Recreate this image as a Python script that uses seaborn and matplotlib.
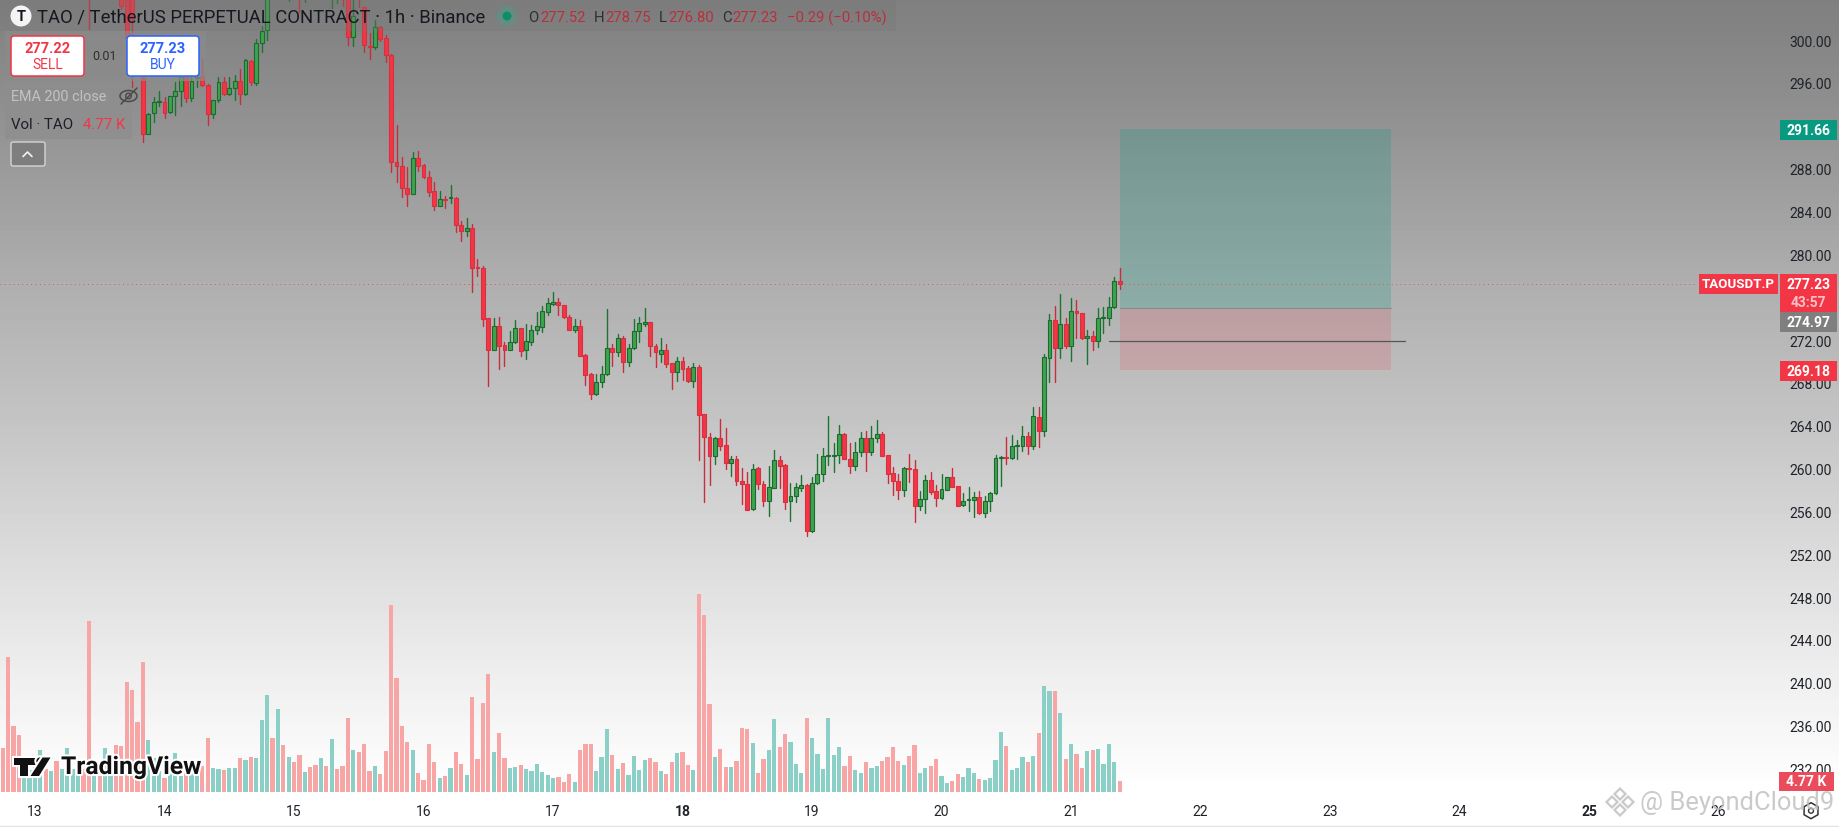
import numpy as np
import pandas as pd
import seaborn as sns
import matplotlib.pyplot as plt
from matplotlib.patches import Rectangle, Circle, Ellipse, Polygon, RegularPolygon, FancyBboxPatch
from matplotlib.patheffects import withStroke

# hours since 13th 00:00
candle_hours = [10, 16, 17, 18] + list(range(20, 202))

opens = [310, 306, 304.5, 305,
    296.53, 291.27, 293.16, 294.19, 294.25, 293.26, 294.75, 295.22, 296.53, 294.57,
    296.43, 296.62, 295.84, 293.13, 294.38, 296.06, 295.0, 295.5, 296.18, 295.0,
    298.02, 296.0, 299.70, 300.95, 305, 307, 306, 305.5, 307, 306,
    305, 306.5, 307.5, 306.5, 307, 306, 306, 307, 305.2, 300.26,
    305, 303.06, 299.48, 299.39, 301.19, 300.17, 298.61, 288.59, 288.22, 286.22,
    285.66, 288.96, 288.34, 287.22, 285.91, 284.54, 285.17, 285.23, 285.29, 282.74,
    282.21, 282.43, 278.75, 278.69, 274.02, 271.10, 273.28, 271.53, 271.10, 271.78,
    273.09, 271.03, 271.85, 272.97, 273.22, 274.58, 275.39, 275.52, 275.27, 274.15,
    272.97, 273.34, 270.60, 268.83, 266.99, 268.05, 268.80, 271.22, 270.91, 272.16,
    269.98, 271.22, 272.84, 273.53, 273.65, 271.41, 270.73, 271.04, 269.85, 269.04,
    270.04, 269.35, 268.20, 269.45, 265.06, 262.94, 261.14, 262.82, 262.20, 260.52,
    260.89, 258.84, 258.59, 256.22, 260.02, 258.59, 257.0, 258.21, 260.76, 260.33,
    257.0, 257.40, 258.21, 258.46, 254.17, 258.65, 259.46, 261.14, 261.14, 261.26,
    263.22, 260.89, 260.20, 261.58, 262.88, 261.51, 262.88, 263.19, 261.26, 259.58,
    258.87, 258.03, 260.02, 259.96, 256.47, 257.15, 258.93, 257.90, 257.22, 258.03,
    259.18, 258.34, 256.60, 257.03, 257.03, 257.31, 255.85, 256.97, 257.68, 260.95,
    261.08, 261.01, 262.07, 262.14, 263.0, 262.14, 264.78, 263.53, 270.35, 273.84,
    271.28, 273.46, 271.47, 274.68, 274.49, 272.16, 272.34, 271.94, 274.06, 274.09,
    275.05, 277.52]

highs = [311, 306.5, 305, 305.5,
    296.8, 293.2, 294.66, 295.28, 294.72, 294.81, 296.06, 296.62, 296.6, 296.53,
    296.68, 298.24, 295.9, 294.45, 296.53, 296.53, 296.53, 296.74, 297.30, 298.24,
    298.14, 300.1, 301.35, 305, 307.5, 308, 307, 308, 308, 307,
    307, 308, 308, 308, 307.5, 307.5, 307.5, 307.5, 305.5, 304.5,
    305.5, 303.06, 300.63, 301.91, 301.35, 300.48, 298.7, 292.08, 289.06, 288.12,
    289.59, 289.68, 288.4, 287.78, 286.78, 285.94, 285.48, 286.47, 285.35, 283.14,
    283.36, 282.83, 279.56, 278.94, 274.1, 274.02, 274.12, 271.78, 272.87, 273.90,
    273.15, 273.49, 273.40, 274.58, 275.2, 275.89, 276.45, 275.89, 275.3, 274.33,
    273.96, 273.90, 270.65, 268.9, 268.83, 269.60, 274.90, 271.60, 272.56, 272.41,
    271.63, 273.96, 274.12, 274.96, 273.7, 271.63, 272.22, 271.63, 269.9, 270.41,
    270.38, 269.60, 269.85, 269.67, 265.1, 263.32, 262.91, 264.62, 263.75, 261.20,
    261.14, 260.02, 259.64, 260.39, 260.1, 258.87, 260.27, 261.70, 261.14, 260.4,
    258.65, 258.65, 259.40, 258.56, 259.18, 261.36, 261.88, 264.87, 262.38, 264.07,
    263.3, 262.38, 262.51, 263.38, 263.50, 263.94, 264.50, 263.38, 261.3, 260.11,
    259.49, 260.1, 261.36, 260.83, 257.90, 259.40, 259.64, 258.46, 259.49, 259.2,
    260.02, 258.4, 257.72, 258.24, 257.84, 257.90, 257.40, 257.78, 261.26, 261.20,
    262.94, 263.13, 262.63, 263.94, 263.38, 265.71, 265.71, 270.69, 274.43, 275.2,
    276.33, 274.02, 275.89, 275.77, 274.55, 272.97, 272.84, 274.96, 275.05, 275.98,
    277.85, 278.75]

lows = [301.04, 302.9, 299.8, 295.6,
    290.46, 291.2, 292.39, 293.82, 292.70, 293.20, 293.01, 293.88, 294.25, 294.35,
    295.59, 295.69, 292.08, 292.70, 294.25, 294.88, 294.9, 294.41, 294.0, 294.88,
    295.81, 295.81, 298.92, 300.04, 304.2, 304.8, 304.5, 303.68, 304.5, 302.66,
    303.59, 305, 305.5, 305, 304.5, 302.97, 303.47, 303.22, 299.58, 299.48,
    303.06, 298.86, 298.24, 299.17, 299.95, 297.93, 287.66, 286.78, 285.32, 284.54,
    285.6, 287.81, 287.13, 285.48, 284.17, 284.5, 284.29, 284.79, 282.05, 281.28,
    281.74, 276.51, 278.01, 273.34, 267.67, 271.05, 269.29, 269.60, 271.05, 271.7,
    270.54, 270.23, 271.53, 272.59, 272.78, 274.33, 275.27, 274.33, 274.02, 272.9,
    272.78, 270.5, 267.80, 266.49, 266.9, 267.58, 268.75, 269.60, 270.54, 268.98,
    269.54, 271.15, 271.78, 273.34, 270.54, 269.48, 269.98, 269.48, 267.43, 268.20,
    268.30, 268.11, 267.58, 260.80, 256.91, 258.46, 260.42, 261.76, 259.96, 259.33,
    258.46, 256.69, 256.1, 256.15, 258.09, 256.53, 255.60, 258.15, 258.21, 256.22,
    255.13, 256.84, 257.93, 253.67, 254.1, 258.6, 258.87, 260.33, 259.71, 260.52,
    260.85, 259.58, 259.89, 261.20, 259.80, 261.26, 262.51, 261.14, 258.65, 257.53,
    257.15, 257.47, 258.71, 254.98, 256.16, 255.85, 257.65, 256.53, 257.15, 258.0,
    258.25, 256.5, 256.47, 256.03, 255.47, 255.8, 255.47, 256.03, 257.65, 258.34,
    260.42, 260.89, 260.89, 261.67, 261.32, 261.82, 262.04, 263.07, 268.11, 268.11,
    270.35, 271.22, 270.07, 272.22, 272.1, 269.73, 271.10, 271.35, 272.65, 273.40,
    275.0, 276.80]

closes = [308, 303.2, 300.26, 302,
    291.27, 293.13, 294.19, 294.25, 293.20, 294.75, 295.22, 296.53, 294.57, 296.21,
    296.53, 295.81, 293.13, 294.38, 296.06, 295.0, 295.5, 296.18, 295.0, 298.14,
    296.06, 299.70, 300.88, 304.5, 307, 306, 305.5, 307, 306, 305,
    306.5, 307.5, 306.5, 307, 306, 307, 307, 305.5, 300.26, 302.22,
    304.3, 299.55, 299.39, 301.19, 300.10, 298.61, 288.59, 288.22, 286.22, 285.66,
    288.96, 288.28, 287.19, 285.85, 284.54, 285.17, 285.1, 285.29, 282.74, 282.21,
    282.43, 278.69, 278.69, 273.96, 271.10, 273.28, 271.47, 271.10, 271.85, 273.09,
    271.0, 271.91, 272.97, 273.28, 274.71, 275.46, 275.52, 275.30, 274.12, 272.97,
    273.28, 270.54, 268.73, 266.99, 268.05, 268.80, 271.22, 270.91, 272.16, 269.98,
    271.22, 272.84, 273.59, 273.65, 271.41, 270.85, 271.04, 269.79, 269.04, 270.04,
    269.29, 268.20, 269.45, 265.0, 262.94, 261.14, 262.82, 262.14, 260.52, 260.89,
    258.80, 258.59, 256.16, 259.96, 258.59, 257.0, 258.24, 260.83, 260.27, 256.91,
    257.40, 258.24, 258.46, 254.17, 258.65, 259.46, 261.14, 261.20, 261.26, 263.22,
    260.89, 260.20, 261.51, 262.88, 261.51, 262.88, 263.19, 261.20, 259.52, 258.80,
    258.03, 260.02, 259.96, 256.47, 257.15, 258.93, 257.84, 257.22, 258.09, 259.18,
    258.31, 256.53, 256.94, 257.09, 257.31, 255.85, 256.97, 257.68, 260.98, 261.08,
    261.01, 262.07, 262.17, 263.0, 262.14, 264.87, 263.53, 270.38, 273.84, 271.28,
    273.46, 271.41, 274.68, 274.49, 272.16, 272.34, 271.94, 274.06, 274.15, 275.05,
    277.48, 277.23]

# volume in K, hour -6 up to 201
volumes = [18.8, 58.2, 28.3, 24.6, 15.6, 9.4,
    14.2, 17.9, 9.8, 8.8, 13.4, 9.8, 18.8, 9.8, 12.0, 9.8,
    74.1, 6.9, 6.9, 18.8, 9.1, 20.2, 19.7, 47.4, 44.1, 30.1,
    56.1, 22.4, 14.5, 9.1, 5.8, 9.8, 16.8, 6.9, 14.2, 9.1,
    9.8, 11.3, 23.3, 10.1, 9.8, 9.2, 10.1, 10.1, 14.5, 13.7,
    15.0, 14.6, 30.9, 42.0, 23.3, 35.8, 20.2, 15.0, 12.9, 15.9,
    8.4, 10.7, 11.6, 14.6, 11.3, 22.8, 9.8, 11.3, 31.9, 17.9,
    17.2, 20.8, 8.8, 11.3, 7.7, 17.6, 80.9, 49.3, 28.3, 21.5,
    17.9, 7.9, 5.1, 20.5, 13.0, 5.9, 6.8, 10.1, 17.2, 12.1,
    7.2, 41.2, 14.2, 38.4, 50.9, 17.2, 25.4, 14.6, 10.1, 10.5,
    11.7, 9.8, 9.0, 12.1, 8.4, 7.2, 5.9, 6.4, 4.2, 7.7,
    4.2, 17.9, 20.8, 20.5, 8.8, 15.0, 27.2, 15.9, 9.7, 12.4,
    7.2, 15.5, 9.2, 13.7, 14.6, 13.0, 8.8, 7.7, 13.0, 16.8,
    17.2, 11.7, 9.2, 85.7, 76.6, 38.0, 15.0, 18.4, 10.5, 10.5,
    13.4, 27.6, 27.2, 21.1, 7.9, 14.2, 17.9, 31.5, 19.2, 25.0,
    21.5, 12.1, 7.9, 32.1, 23.3, 16.3, 9.7, 32.1, 15.9, 19.2,
    11.1, 15.5, 9.2, 7.9, 13.0, 10.1, 11.1, 13.4, 15.0, 19.2,
    13.4, 11.7, 15.5, 20.2, 7.9, 10.1, 11.3, 14.2, 6.8, 3.8,
    4.6, 7.7, 6.4, 10.1, 7.9, 5.5, 5.1, 5.9, 13.7, 25.9,
    19.7, 9.2, 10.1, 15.0, 13.0, 15.5, 25.4, 45.8, 43.6, 43.6,
    34.1, 14.2, 20.7, 16.3, 10.1, 17.6, 17.9, 18.4, 12.1, 20.7,
    12.9, 4.77]
volume_sides = ("rrrrggggrg" "rggggrrgrg" "grrrrrrggg" "rgggrggrrg" "grggrgrggg"
    "rgrgrrgrrg" "rgrrrgrrrg" "rrrrrrgrrr" "rgrgrrgrrr" "rgrrggrggg"
    "gggrrrgrrr" "gggrgrgggg" "rrgrrgrrgr" "rrgrrgrrrg" "rrggrrgggr"
    "ggggggrrgg" "rggrrrrgrr" "ggrrggrrgg" "grggggrggg" "rgrggrgrgr" "rgrggggr")

# 276.00 sits under the last price tag in the reference
price_ticks = [p for p in range(232, 304, 4) if p != 276]
day_labels = list(range(13, 27))
bold_days = [18, 25]

last_price = 277.23
target_price = 291.66
entry_price = 274.97
stop_price = 269.18
line_price = 271.94
position_start = 201.08
position_end = 251.2
line_start = 198.96
line_end = 253.9

RED = "#f23645"
GREEN_FACE = "#3fa34d"
GREEN_EDGE = "#1a6b30"
palette_wick = {"r": "#c92c3c", "g": "#1c7433"}
palette_vol = {"r": "#f7a5a5", "g": "#8bd0c6"}

sns.set_theme(style="white")
plt.rcParams["font.family"] = ["Roboto", "DejaVu Sans"]

fig = plt.figure(figsize=(18.4, 8.28), dpi=100)

# grey to white backdrop
bg = fig.add_axes([0, 0, 1, 1], zorder=0)
shade = np.interp(np.arange(828), [0, 100, 280, 420, 560, 680, 792], [127, 142, 174, 196, 220, 239, 255])
bg.imshow(shade[:, None], cmap="gray", vmin=0, vmax=255, aspect="auto")
bg.axis("off")

ax = fig.add_axes([0, 0, 1, 1], zorder=2)
ax.patch.set_visible(False)
ax_vol = ax.twinx()
ax_vol.set_zorder(1)
ax.set_zorder(2)
ax_vol.patch.set_visible(False)

vol_df = pd.DataFrame({"hour": np.arange(-6, 202), "volume": volumes, "side": list(volume_sides)})
sns.barplot(data=vol_df, x="hour", y="volume", hue="side", palette=palette_vol, native_scale=True,
            dodge=False, width=0.78, errorbar=None, legend=False, saturation=1, linewidth=0, ax=ax_vol)
ax_vol.set_ylim(-15.3, 343.6)
ax_vol.axis("off")

candles = pd.DataFrame({"hour": candle_hours, "open": opens, "high": highs, "low": lows, "close": closes})
candles["side"] = np.where(candles["close"] >= candles["open"], "g", "r")
wicks = candles.melt(id_vars=["hour", "side"], value_vars=["high", "low"], value_name="price")
sns.lineplot(data=wicks, x="hour", y="price", units="hour", estimator=None, hue="side", palette=palette_wick,
             sort=False, linewidth=1.0, legend=False, ax=ax, zorder=3)

for side, group in candles.groupby("side"):
    body = (group["close"] - group["open"]).abs().clip(lower=0.1)
    ax.bar(group["hour"], body, bottom=group[["open", "close"]].min(axis=1), width=0.72,
           color=RED if side == "r" else GREEN_FACE, edgecolor="#d92f3f" if side == "r" else GREEN_EDGE,
           linewidth=0.8, zorder=4)

# long position tool
ax.add_patch(Rectangle((position_start, entry_price), position_end - position_start, target_price - entry_price,
                       facecolor="#089981", alpha=0.22, linewidth=0, zorder=2))
ax.add_patch(Rectangle((position_start, stop_price), position_end - position_start, entry_price - stop_price,
                       facecolor=RED, alpha=0.16, linewidth=0, zorder=2))
ax.plot([position_start, position_end], [entry_price, entry_price], color="#7f8f8c", lw=0.8, zorder=2)
ax.plot([line_start, line_end], [line_price, line_price], color="#555555", lw=0.9, zorder=5)
ax.plot([-6.5, 308], [last_price, last_price], color=RED, lw=0.7, dashes=(1, 3.5), alpha=0.8, zorder=2)

ax.set_xlim(-6.486, 334.5)
ax.set_ylim(226.53, 303.84)
ax.set_xlabel("")
ax.set_ylabel("")
ax.set_xticks([(d - 13) * 24 for d in day_labels])
ax.set_xticklabels([str(d) for d in day_labels], fontsize=10, color="#1f2329")
for lab, d in zip(ax.get_xticklabels(), day_labels):
    if d in bold_days:
        lab.set_fontweight("bold")
ax.yaxis.tick_right()
ax.set_yticks(price_ticks)
ax.set_yticklabels([f"{p:.2f}" for p in price_ticks], fontsize=10, color="#1f2329", ha="right")
ax.tick_params(axis="x", length=0, pad=-16.5)
ax.tick_params(axis="y", length=0, pad=-5.8)
sns.despine(ax=ax, left=True, bottom=True, right=True, top=True)

# screen furniture in pixel coordinates
ui = fig.add_axes([0, 0, 1, 1], zorder=5)
ui.set_xlim(0, 1840)
ui.set_ylim(828, 0)
ui.axis("off")

def tag(x0, x1, y0, y1, color):
    ui.add_patch(Rectangle((x0, y0), x1 - x0, y1 - y0, facecolor=color, linewidth=0))

def label(x, y, s, size=10, color="white", ha="center", weight="normal", **kw):
    return ui.text(x, y, s, fontsize=size, color=color, ha=ha, va="center", fontweight=weight, **kw)

# header band and legend panels
ui.add_patch(Rectangle((0, 0), 896, 32, facecolor="#767676", alpha=0.3, linewidth=0))
ui.add_patch(Rectangle((5, 32), 201, 50, facecolor="#8b8b8b", alpha=0.72, linewidth=0))
ui.add_patch(Rectangle((5, 82), 127, 58, facecolor="#8e8e8e", alpha=0.72, linewidth=0))

ui.add_patch(Circle((21, 17), 10.5, facecolor="#f4f4f4", linewidth=0))
label(21, 17, "T", size=10.5, color="#131722", weight="bold")
label(37.5, 18, "TAO / TetherUS PERPETUAL CONTRACT · 1h · Binance", size=13.3, color="#15181f", ha="left")
ui.add_patch(Circle((507, 17), 10, facecolor="#4f9a8a", alpha=0.5, linewidth=0))
ui.add_patch(Circle((507, 17), 4.5, facecolor="#0a8f6a", linewidth=0))

header_red = "#b8303e"
for x, s, col in [(528, "O", "#2e2e2e"), (540, "277.52", header_red), (594, "H", "#2e2e2e"), (605, "278.75", header_red),
                  (659, "L", "#2e2e2e"), (668, "276.80", header_red), (721.7, "C", "#2e2e2e"), (732.7, "277.23", header_red),
                  (787, "−0.29 (−0.10%)", header_red)]:
    label(x, 18, s, size=10.7, color=col, ha="left")

for x0, x1, edge in [(11, 84, RED), (127, 199, "#2962ff")]:
    ui.add_patch(FancyBboxPatch((x0 + 3, 40), x1 - x0 - 6, 34, boxstyle="round,pad=3", facecolor="white",
                                edgecolor=edge, linewidth=1.1))
label(47.5, 49, "277.22", size=10.5, color=RED, weight="bold")
label(47.5, 65, "SELL", size=10, color=RED)
label(105, 56, "0.01", size=9, color="#2e2e2e")
label(163, 49, "277.23", size=10.5, color="#2962ff", weight="bold")
label(163, 65, "BUY", size=10, color="#2962ff")

label(11, 97, "EMA 200 close", size=10.4, color="#c2c2c2", ha="left")
ui.add_patch(Ellipse((128.5, 97), 17, 11, facecolor="none", edgecolor="#4a4a4a", linewidth=1.1))
ui.add_patch(Circle((128.5, 97), 2.8, facecolor="none", edgecolor="#4a4a4a", linewidth=1))
ui.plot([121, 137], [105, 89], color="#4a4a4a", lw=1.1)
label(11, 125, "Vol · TAO", size=10.8, color="#1c1f26", ha="left")
label(83, 125, "4.77 K", size=10.8, color=RED, ha="left")

ui.add_patch(FancyBboxPatch((13, 145), 30, 20, boxstyle="round,pad=2", facecolor="#7e7e7e", edgecolor="#d5d5d5", linewidth=1))
ui.plot([23, 27.5, 32], [157.5, 153, 157.5], color="#f2f2f2", lw=1.2)

# price scale tags
tag(1780, 1837, 121, 141, "#089981")
label(1808.5, 131, "291.66", weight="bold")
tag(1699, 1778, 275, 295, RED)
label(1738.5, 285, "TAOUSDT.P", size=9.6, weight="bold")
tag(1780, 1837, 275, 313, RED)
label(1808.5, 285.5, "277.23", weight="bold")
label(1808.5, 303, "43:57", color="#f9c0c6", weight="bold")
tag(1780, 1837, 313.3, 333, "#7f7f7f")
label(1808.5, 323, "274.97", weight="bold")
tag(1780, 1837, 362, 381.7, RED)
label(1808.5, 372, "269.18", weight="bold")
tag(1779, 1834, 772.7, 792, "#ea4c5b")
label(1806.5, 782.5, "4.77 K", weight="bold")

# TradingView mark
stroke = [withStroke(linewidth=3, foreground="white")]
mark = [Polygon([(14, 758.5), (36, 758.5), (36, 765.5), (28, 765.5), (28, 777), (20, 777), (20, 765.5), (14, 765.5)]),
        Circle((40, 762), 3.6),
        Polygon([(42.5, 758.5), (50.5, 758.5), (39, 777), (30.5, 777)])]
for m in mark:
    m.set_facecolor("#111111")
    m.set_linewidth(0)
    m.set_path_effects(stroke)
    ui.add_patch(m)
label(61, 768, "TradingView", size=17.8, color="#111111", ha="left", weight="bold",
      path_effects=[withStroke(linewidth=3, foreground="white")])

# settings hexagon
ui.add_patch(RegularPolygon((1811, 811.7), 6, radius=8, facecolor="none", edgecolor="#333333", linewidth=1.1))
ui.add_patch(Circle((1811, 811.7), 2.5, facecolor="none", edgecolor="#333333", linewidth=1))
ui.plot([0, 1840], [826.7, 826.7], color="#e4e4e4", lw=1)

# watermark
for dx, dy in [(0, -8), (-8, 0), (8, 0), (0, 8)]:
    ui.add_patch(RegularPolygon((1620 + dx, 803 + dy), 4, radius=5.5, facecolor="none", edgecolor="#c9c9c9", linewidth=1.6))
label(1640, 803, "@ BeyondCloud9", size=18.4, color="#bdbdbd", ha="left", alpha=0.8)

fig.savefig("out.png", dpi=100)
